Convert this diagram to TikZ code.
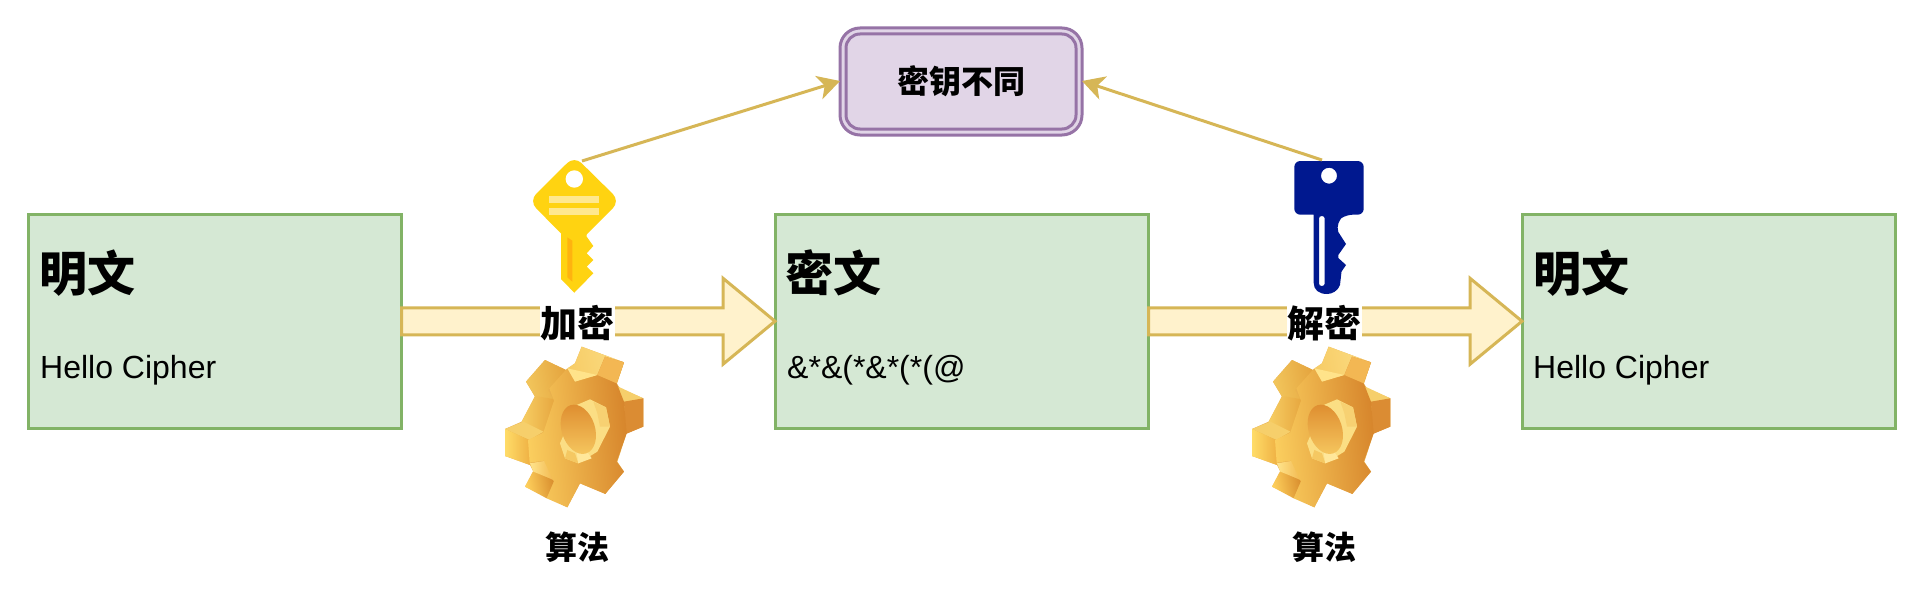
\documentclass[tikz,border=0pt]{standalone}
\usepackage{fontspec}
\setmainfont{Liberation Sans}
\newfontfamily\cjk{Noto Sans CJK SC}
\usetikzlibrary{arrows.meta,calc}
\definecolor{gfill}{HTML}{D5E8D4}
\definecolor{gline}{HTML}{82B366}
\definecolor{yfill}{HTML}{FFF2CC}
\definecolor{yline}{HTML}{D6B656}
\definecolor{pfill}{HTML}{E1D5E7}
\definecolor{pline}{HTML}{9673A6}
\definecolor{keyy}{HTML}{FFD311}
\definecolor{keybar}{HTML}{FFE88E}
\definecolor{keyo}{HTML}{FFB30F}
\definecolor{keyb}{HTML}{00188F}
\definecolor{ga}{HTML}{F7CC66}\definecolor{gb}{HTML}{FBDC82}
\definecolor{gc}{HTML}{F2C65C}\definecolor{gd}{HTML}{E5A53F}
\definecolor{ge}{HTML}{F7CE63}\definecolor{gf}{HTML}{E6A63F}
\definecolor{gg}{HTML}{FFDC68}\definecolor{gh}{HTML}{EFB144}
\definecolor{gi}{HTML}{FFD25E}\definecolor{gj}{HTML}{D98E2E}
\definecolor{gk}{HTML}{FFE48C}\definecolor{gl}{HTML}{F2B84F}
\definecolor{gm}{HTML}{E9A845}\definecolor{gn}{HTML}{F6CF6B}
\definecolor{go}{HTML}{DB8C33}\definecolor{gp}{HTML}{FBCF5F}
\definecolor{gq}{HTML}{D6842B}\definecolor{gr}{HTML}{FFE38A}
\definecolor{gs}{HTML}{F3B753}\definecolor{gt}{HTML}{FBDE84}
\definecolor{gu}{HTML}{F5C862}\definecolor{gv}{HTML}{FFE79A}
\definecolor{gw}{HTML}{F7D172}\definecolor{gx}{HTML}{DF8F31}
\definecolor{gy}{HTML}{F6C860}\definecolor{gz}{HTML}{E9B04E}
\tikzset{
  panel/.style={draw=gline,fill=gfill,line width=3pt,outer sep=0pt,minimum width=373.5pt,minimum height=213.5pt,inner sep=0pt,anchor=north west},
  title/.style={anchor=west,inner sep=0pt,font=\cjk\bfseries\fontsize{48}{48}\selectfont},
  body/.style={anchor=base west,inner sep=0pt,font=\fontsize{32}{36}\selectfont},
  oplabel/.style={fill=white,inner sep=0pt,minimum width=75pt,minimum height=38pt,font=\cjk\bfseries\fontsize{37}{37}\selectfont},
  caption/.style={inner sep=0pt,font=\cjk\bfseries\fontsize{32}{32}\selectfont},
  blockarrow/.style={draw=yline,fill=yfill,line width=3pt,line join=miter},
  keyarrow/.style={draw=yline,line width=3pt,-{Stealth[length=22pt,width=24pt,inset=6pt]}},
  gearpic/.pic={
    % silhouette
    \fill[gz] (138,155) -- (195,90) -- (258,120) -- (285,100) -- (305,50) -- (432,97) -- (410,160) -- (420,175) -- (490,205) -- (490,290) -- (440,310) -- (412,395) -- (432,425) -- (375,492) -- (345,450) -- (300,460) -- (262,532) -- (135,470) -- (160,425) -- (150,405) -- (75,378) -- (75,297) -- (125,275) -- (165,200) -- cycle;
    % back teeth
    \shade[left color=ga,right color=gb,shading angle=100] (305,50) -- (432,97) -- (410,165) -- (262,115) -- (285,100) -- cycle;
    \shade[left color=gc,right color=gd,shading angle=100] (138,155) -- (195,90) -- (258,120) -- (205,180) -- (222,212) -- (165,200) -- cycle;
    \shade[left color=ge,right color=gf,shading angle=90] (165,198) -- (225,208) -- (190,310) -- (125,275) -- cycle;
    \fill[gn] (75,297) -- (130,275) -- (190,305) -- (148,330) -- cycle;
    \shade[left color=gg,right color=gh,shading angle=90] (75,297) -- (148,330) -- (150,405) -- (75,378) -- cycle;
    \shade[left color=gi,right color=gj,shading angle=100] (160,422) -- (222,452) -- (200,505) -- (135,470) -- cycle;
    \shade[left color=gk,right color=gl,shading angle=90] (150,400) -- (200,392) -- (222,450) -- (160,425) -- cycle;
    \fill[gm] (300,460) -- (345,448) -- (378,492) -- cycle;
    \fill[gn] (415,170) -- (490,205) -- (432,225) -- cycle;
    \fill[go] (432,215) -- (490,205) -- (490,290) -- (438,312) -- cycle;
    % front face
    \shade[left color=gp,right color=gq,shading angle=95]
      (262,115) -- (208,175) -- (222,212) -- (190,308) -- (144,330) -- (149,398) -- (192,392) -- (222,455) -- (200,505) -- (262,532) -- (300,460) -- (376,492) -- (432,425) -- (410,395) -- (440,310) -- (432,215) -- (410,160) -- (432,97) -- (375,80) -- (352,135) -- (285,155) -- cycle;
    \fill[gr] (262,115) -- (352,135) -- (285,155) -- cycle;
    \fill[gs] (375,80) -- (432,97) -- (410,160) -- (352,135) -- cycle;
    % hole bevel
    \fill[gt] (330,208) -- (378,232) -- (390,290) -- (352,365) -- (295,400) -- (255,385) -- (240,340) -- (290,225) -- cycle;
    \fill[gu] (255,385) -- (262,360) -- (285,370) -- (295,400) -- cycle;
    \fill[gv] (295,400) -- (290,368) -- (318,360) -- (335,385) -- cycle;
    \fill[gw] (340,215) -- (378,232) -- (390,290) -- (360,290) -- (352,250) -- cycle;
    % hole
    \shade[top color=gx,bottom color=gy,rotate around={18:(295,298)}]
      (295,298) ellipse (50 and 76);
  },
}
\begin{document}
\begin{tikzpicture}[x=1pt,y=-1pt]
\useasboundingbox (0,0) rectangle (1922,594);
\fill[white] (0,0) rectangle (1922,594);

% panels
\node[panel] (plainA) at (28,214.5) {};
\node[panel] (cipher) at (775,214.5) {};
\node[panel] (plainB) at (1522,214.5) {};
\node[title] (plainAt) at (39.5,273) {明文};
\node[title] (ciphert) at (785.5,273) {密文};
\node[title] (plainBt) at (1533.5,273) {明文};
\node[body] (plainAb) at (40,378) {Hello Cipher};
\node[body] (cipherb) at (787,378) {\&*\&(*\&*(*(@};
\node[body] (plainBb) at (1533,378) {Hello Cipher};

% block arrows
\draw[blockarrow] ($(plainA.east)+(0,-13.5)$) -- ($(cipher.west)+(-52,-13.5)$) -- ($(cipher.west)+(-52,-43)$) -- (cipher.west) -- ($(cipher.west)+(-52,43)$) -- ($(cipher.west)+(-52,13.5)$) -- ($(plainA.east)+(0,13.5)$) -- cycle;
\draw[blockarrow] ($(cipher.east)+(0,-13.5)$) -- ($(plainB.west)+(-52,-13.5)$) -- ($(plainB.west)+(-52,-43)$) -- (plainB.west) -- ($(plainB.west)+(-52,43)$) -- ($(plainB.west)+(-52,13.5)$) -- ($(cipher.east)+(0,13.5)$) -- cycle;
\node[oplabel] (enc) at (577,323) {加密};
\node[oplabel] (dec) at (1324,323) {解密};

% differing-key box
\draw[draw=pline,fill=pfill,line width=3pt,rounded corners=20pt] (840,28) rectangle (1082,135);
\node[draw=pline,fill=pfill,line width=3pt,outer sep=0pt,rounded corners=14pt,minimum width=230pt,minimum height=95pt,inner sep=0pt,font=\cjk\bfseries\fontsize{32}{32}\selectfont] (diff) at (961,81.5) {密钥不同};
\coordinate (diffW) at (840,81);
\coordinate (diffE) at (1082,81);

% yellow key
\fill[keyy,rounded corners=10pt] (574.3,156) -- (620,201) -- (574.3,247) -- (529,201) -- cycle;
\fill[keyy] (561,230) -- (586.7,232) -- (586.7,236.7) -- (593.3,246) -- (586.7,253.3) -- (593.3,260) -- (586.7,266.7) -- (593.3,273.3) -- (574.3,292.7) -- (561,279) -- cycle;
\fill[white] (574.3,179) circle (8.7);
\fill[keybar] (548.7,196) rectangle (598.7,203);
\fill[keybar] (548.7,207.7) rectangle (598.7,214.7);
\fill[keyo] (567.3,237.3) -- (572.3,240.7) -- (572.3,281.7) -- (567.3,277.3) -- cycle;
\coordinate (keyA) at (582,161);

% blue key
\fill[keyb,even odd rule]
  [rounded corners=6pt] (1294.3,161) -- (1363.7,161) -- (1363.7,214.7) -- (1346.7,214.7) [rounded corners=0pt]
  .. controls (1340,219) and (1336,226) .. (1338.3,232) -- (1346,244) -- (1338.3,255) -- (1338.3,258) -- (1346,265) -- (1341.5,271.7) -- (1340,285)
  .. controls (1338,291) and (1332,294) .. (1327,294) .. controls (1319,294) and (1313.7,290) .. (1313.7,283) -- (1313.7,214.7) [rounded corners=6pt] -- (1294.3,214.7) -- cycle
  (1329,175.7) circle (8)
  [rounded corners=2.5pt] (1319,216) rectangle (1324.7,286);
\coordinate (keyB) at (1322,160);

% key connectors
\draw[keyarrow] (keyA) -- (diffW);
\draw[keyarrow] (keyB) -- (diffE);

% gears
\begin{scope}[shift={(480,330)},x=0.3333pt,y=-0.3333pt,yscale=-1]
\pic {gearpic};
\end{scope}
\begin{scope}[shift={(1227,330)},x=0.3333pt,y=-0.3333pt,yscale=-1]
\pic {gearpic};
\end{scope}
\node[caption] (algA) at (577,547) {算法};
\node[caption] (algB) at (1324,547) {算法};
\end{tikzpicture}
\end{document}
